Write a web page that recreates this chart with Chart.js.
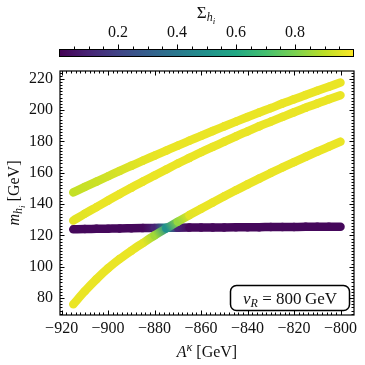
<!DOCTYPE html>
<html>
<head>
<meta charset="utf-8">
<script src="https://cdn.jsdelivr.net/npm/chart.js@4/dist/chart.umd.min.js"></script>
<style>
  html, body { margin: 0; padding: 0; background: #fff; }
  #wrap { width: 365px; height: 365px; }
</style>
</head>
<body>
<div id="wrap"><canvas id="chart"></canvas></div>
<script>
// A^kappa scan points [GeV]
var aKappa = [-915, -910, -905, -900, -895, -890, -885, -880, -875, -870, -865, -860,
              -855, -850, -845, -840, -835, -830, -825, -820, -815, -810, -805, -800];

// scalar masses m_hi [GeV], one array per state
var mh4 = [147.5, 151, 154.4, 157.8, 161.2, 164.5, 167.8, 171, 174.2, 177.4, 180.5, 183.6,
           186.7, 189.7, 192.7, 195.6, 198.5, 201.3, 204.2, 206.9, 209.7, 212.4, 215, 217.6];
var mh3 = [129.5, 133.9, 138.1, 142.3, 146.5, 150.5, 154.5, 158.3, 162.1, 165.9, 169.5, 173.1,
           176.5, 179.9, 183.3, 186.5, 189.7, 192.7, 195.7, 198.7, 201.5, 204.3, 206.9, 209.5];
var mh2 = [76, 84.4, 92.1, 99, 105, 110.3, 115.2, 120, 124.5, 128.8, 133, 137.1,
           141.1, 145, 148.8, 152.6, 156.3, 159.9, 163.4, 166.8, 170.2, 173.5, 176.7, 179.9];
var mh1 = [123.9, 124.1, 124.2, 124.35, 124.5, 124.6, 124.7, 124.8, 124.9, 124.95, 125, 125.05,
           125.1, 125.15, 125.2, 125.25, 125.3, 125.35, 125.4, 125.45, 125.5, 125.5, 125.55, 125.6];

// Sigma_hi colour value along each line
var sig4 = [0.91, 0.915, 0.92, 0.93, 0.94, 0.95, 0.96, 0.965, 0.97, 0.97, 0.97, 0.97,
            0.97, 0.97, 0.97, 0.97, 0.97, 0.97, 0.97, 0.97, 0.97, 0.97, 0.97, 0.97];
var sig3 = [0.96, 0.96, 0.97, 0.97, 0.97, 0.97, 0.97, 0.97, 0.97, 0.97, 0.97, 0.97,
            0.97, 0.97, 0.97, 0.97, 0.97, 0.97, 0.97, 0.97, 0.97, 0.97, 0.97, 0.97];
var sig2 = [0.97, 0.97, 0.97, 0.97, 0.97, 0.97, 0.96, 0.86, 0.5, 0.84, 0.96, 0.97,
            0.97, 0.97, 0.97, 0.97, 0.97, 0.97, 0.97, 0.97, 0.97, 0.97, 0.97, 0.97];
var sig1 = [0.02, 0.02, 0.02, 0.02, 0.02, 0.02, 0.02, 0.1, 0.5, 0.1, 0.02, 0.02,
            0.02, 0.02, 0.02, 0.02, 0.02, 0.02, 0.02, 0.02, 0.02, 0.02, 0.02, 0.02];

var xTicks = [-920, -900, -880, -860, -840, -820, -800];
var yTicks = [80, 100, 120, 140, 160, 180, 200, 220];
var cbTicks = [0.2, 0.4, 0.6, 0.8];

var masses = [mh4, mh3, mh2, mh1];
var sigmas = [sig4, sig3, sig2, sig1];

var FONT = "'Liberation Serif', 'DejaVu Serif', serif";

var viridis = ['#440154', '#482475', '#414487', '#355f8d', '#2a788e', '#21918c',
               '#22a884', '#44bf70', '#7ad151', '#bddf26', '#fde725'];
function hex(h) { return [parseInt(h.substr(1, 2), 16), parseInt(h.substr(3, 2), 16), parseInt(h.substr(5, 2), 16)]; }
function cmap(v) {
  v = Math.max(0, Math.min(1, v)) * 10;
  var i = Math.min(9, Math.floor(v)), f = v - i;
  var a = hex(viridis[i]), b = hex(viridis[i + 1]);
  return 'rgb(' + [0, 1, 2].map(function (k) { return Math.round(a[k] + (b[k] - a[k]) * f); }).join(',') + ')';
}

function segColor(ctx) {
  var s = sigmas[ctx.datasetIndex];
  var c0 = cmap(s[ctx.p0DataIndex]), c1 = cmap(s[ctx.p1DataIndex]);
  if (!isFinite(ctx.p0.x) || !isFinite(ctx.p1.x)) return c0;
  var g = ctx.chart.ctx.createLinearGradient(ctx.p0.x, ctx.p0.y, ctx.p1.x, ctx.p1.y);
  g.addColorStop(0, c0);
  g.addColorStop(1, c1);
  g.key = ctx.datasetIndex + '-' + ctx.p0DataIndex; // keep segments apart
  return g;
}

// draw a run of text pieces (for sub/superscripts)
function mathText(c, parts, x, y, align) {
  var w = 0;
  parts.forEach(function (p) {
    c.font = (p.it ? 'italic ' : '') + p.size + 'px ' + FONT;
    p.w = c.measureText(p.t).width;
    w += p.w;
  });
  var cx = align === 'center' ? x - w / 2 : x;
  parts.forEach(function (p) {
    c.font = (p.it ? 'italic ' : '') + p.size + 'px ' + FONT;
    c.fillText(p.t, cx, y + (p.dy || 0));
    cx += p.w;
  });
}

var decor = {
  id: 'decor',
  afterDraw: function (chart) {
    var c = chart.ctx, a = chart.chartArea, sx = chart.scales.x, sy = chart.scales.y;
    c.save();
    c.strokeStyle = '#000';
    c.lineWidth = 1;
    c.beginPath();
    for (var v = -920; v <= -800; v += 2) {
      var px = Math.round(sx.getPixelForValue(v)) + 0.5;
      var len = (v % 20 === 0) ? 4.5 : 2.5;
      c.moveTo(px, a.bottom); c.lineTo(px, a.bottom - len);
      c.moveTo(px, a.top); c.lineTo(px, a.top + len);
    }
    for (var m = 70; m <= 224; m += 2) {
      var py = Math.round(sy.getPixelForValue(m)) + 0.5;
      var l2 = (m % 20 === 0) ? 4.5 : 2.5;
      c.moveTo(a.left, py); c.lineTo(a.left + l2, py);
      c.moveTo(a.right, py); c.lineTo(a.right - l2, py);
    }
    c.stroke();
    c.lineWidth = 1.2;
    c.strokeRect(a.left, a.top, a.right - a.left, a.bottom - a.top);

    // colour bar
    var cbL = 59, cbR = 354, cbT = 49, cbB = 56;
    var g = c.createLinearGradient(cbL, 0, cbR, 0);
    for (var k = 0; k <= 20; k++) g.addColorStop(k / 20, cmap(k / 20));
    c.fillStyle = g;
    c.fillRect(cbL, cbT, cbR - cbL, cbB - cbT);
    c.lineWidth = 1;
    c.strokeRect(cbL + 0.5, cbT + 0.5, cbR - cbL - 1, cbB - cbT);
    c.beginPath();
    for (var t = 1; t < 20; t++) {
      var tx = Math.round(cbL + (cbR - cbL) * t / 20) + 0.5;
      var tl = (t % 4 === 0) ? 4.5 : 2.5;
      c.moveTo(tx, cbT); c.lineTo(tx, cbT - tl);
    }
    c.stroke();
    c.fillStyle = '#111';
    c.textAlign = 'center';
    c.textBaseline = 'middle';
    c.font = '16px ' + FONT;
    cbTicks.forEach(function (v) {
      c.fillText(v.toFixed(1), cbL + (cbR - cbL) * v, 33);
    });

    c.textAlign = 'left';
    c.textBaseline = 'alphabetic';
    // colour bar title
    mathText(c, [{ t: '\u03A3', size: 17 }, { t: 'h', size: 12, it: true, dy: 3 }, { t: 'i', size: 9, it: true, dy: 6 }], 206, 18, 'center');
    // x axis title
    mathText(c, [{ t: 'A', size: 16, it: true }, { t: '\u03BA', size: 12, it: true, dy: -6 }, { t: ' [GeV]', size: 16 }],
             (a.left + a.right) / 2, 357, 'center');
    // y axis title
    c.save();
    c.translate(19, (a.top + a.bottom) / 2);
    c.rotate(-Math.PI / 2);
    mathText(c, [{ t: 'm', size: 16, it: true }, { t: 'h', size: 12, it: true, dy: 3 }, { t: 'i', size: 9, it: true, dy: 6 },
                 { t: ' [GeV]', size: 16 }], 0, 0, 'center');
    c.restore();

    // v_R label box
    c.beginPath();
    c.roundRect(230.5, 285.5, 119, 25, 6);
    c.fillStyle = '#fff';
    c.fill();
    c.lineWidth = 1.5;
    c.stroke();
    c.fillStyle = '#111';
    mathText(c, [{ t: 'v', size: 17, it: true }, { t: 'R', size: 12, it: true, dy: 3 }, { t: ' = 800\u2009GeV', size: 17 }],
             290, 303.5, 'center');
    c.restore();
  }
};

var datasets = masses.map(function (ys, i) {
  return {
    data: aKappa.map(function (x, j) { return { x: x, y: ys[j] }; }),
    showLine: true,
    borderWidth: 8.5,
    borderCapStyle: 'round',
    borderJoinStyle: 'round',
    pointRadius: 0,
    cubicInterpolationMode: 'monotone',
    borderColor: cmap(sigmas[i][0]),
    segment: { borderColor: segColor }
  };
});

var ctx = document.getElementById('chart').getContext('2d');
new Chart(ctx, {
  type: 'scatter',
  data: { datasets: datasets },
  options: {
    responsive: true,
    maintainAspectRatio: false,
    animation: false,
    layout: { padding: { top: 71, right: 11, left: 0, bottom: 0 } },
    plugins: { legend: { display: false }, tooltip: { enabled: false } },
    scales: {
      x: {
        type: 'linear', min: -920.7, max: -794.2,
        grid: { display: false, drawTicks: false },
        border: { display: false },
        afterBuildTicks: function (s) { s.ticks = xTicks.map(function (v) { return { value: v }; }); },
        afterFit: function (s) { s.height = 50; },
        ticks: {
          padding: 4, color: '#111', font: { family: FONT, size: 16 },
          maxRotation: 0,
          callback: function (v) { return v < 0 ? '\u2212' + Math.abs(v) : String(v); }
        }
      },
      y: {
        type: 'linear', min: 69.2, max: 225,
        grid: { display: false, drawTicks: false },
        border: { display: false },
        afterBuildTicks: function (s) { s.ticks = yTicks.map(function (v) { return { value: v }; }); },
        afterFit: function (s) { s.width = 60; },
        ticks: { padding: 7, color: '#111', font: { family: FONT, size: 16 } }
      }
    }
  },
  plugins: [decor]
});
</script>
</body>
</html>
